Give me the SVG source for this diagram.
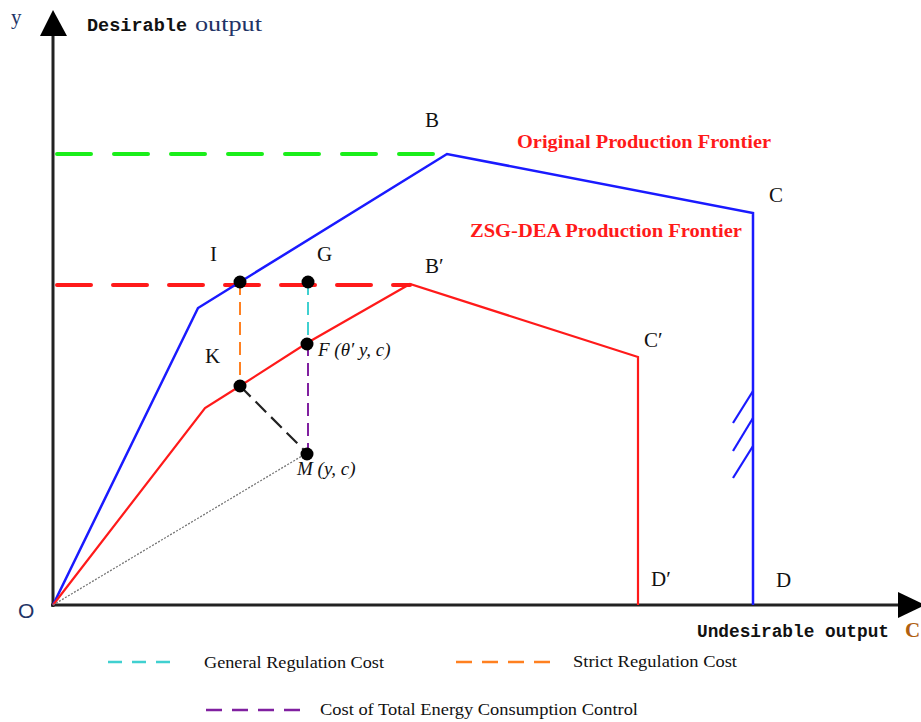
<svg xmlns="http://www.w3.org/2000/svg" width="921" height="722" viewBox="0 0 921 722">
<style>
.lbl{font-family:"Liberation Serif","Times New Roman",serif;font-size:21px;fill:#111}
.ital{font-family:"Liberation Serif","Times New Roman",serif;font-size:19px;font-style:italic;fill:#111}
.up{font-family:"Liberation Serif","Times New Roman",serif;font-size:19px;fill:#111}
.red{font-family:"Liberation Serif","Times New Roman",serif;font-size:19px;font-weight:bold;fill:#ff1a1a}
.mono{font-family:"Liberation Mono","Courier New",monospace;font-size:19px;font-weight:bold;fill:#111}
.leg{font-family:"Liberation Serif","Times New Roman",serif;font-size:16px;fill:#111}
.blue{fill:none;stroke:#1a1aff;stroke-width:2.5;stroke-linejoin:miter}
.redl{fill:none;stroke:#ff1a1a;stroke-width:2.2}
.dot{fill:#000}
</style>
<rect width="921" height="722" fill="#fff"/>
<g id="axes">
<line x1="53" y1="607" x2="53" y2="36" stroke="#222" stroke-width="3"/>
<polygon points="53,10 40,36 67,36" fill="#000"/>
<line x1="51" y1="605" x2="898" y2="605" stroke="#222" stroke-width="3"/>
<polygon points="898,592 925,605 898,618" fill="#000"/>
<text x="11" y="24" class="lbl" style="fill:#223366">y</text>
<text x="18" y="618" class="lbl" style="fill:#223366;font-family:'Liberation Sans',Arial,sans-serif">O</text>
<text x="87" y="31" class="mono" textLength="100" lengthAdjust="spacingAndGlyphs">Desirable</text>
<text x="195" y="31" class="up" style="fill:#223366;font-size:22px" textLength="67" lengthAdjust="spacingAndGlyphs">output</text>
<text x="697" y="637" class="mono" textLength="192" lengthAdjust="spacingAndGlyphs">Undesirable output</text>
<text x="905" y="637" class="lbl" style="fill:#b06010;font-weight:bold">C</text>
</g>
<g id="connectors">
<line x1="57" y1="154" x2="447" y2="154" stroke="#1aee1a" stroke-width="4" stroke-dasharray="34,23" stroke-linecap="round"/>
<line x1="57" y1="285" x2="410" y2="285" stroke="#ff1a1a" stroke-width="4" stroke-dasharray="34,22" stroke-linecap="round"/>
<polyline class="blue" points="53,605 198,308 240,282 447,154 753,213 753,605"/>
<polyline class="redl" points="53,605 205,408 240,386 307,343 410,284 638,357 638,605"/>
<g stroke="#1a1aff" stroke-width="2.2">
<line x1="753" y1="391" x2="733" y2="423"/>
<line x1="753" y1="418" x2="733" y2="451"/>
<line x1="753" y1="446" x2="733" y2="478"/>
</g>
<line x1="53" y1="605" x2="307" y2="453" stroke="#777" stroke-width="1.3" stroke-dasharray="2,1.5"/>
<line x1="240" y1="282" x2="240" y2="386" stroke="#ff8020" stroke-width="2" stroke-dasharray="13,7"/>
<line x1="308" y1="282" x2="308" y2="343" stroke="#40d0d0" stroke-width="2" stroke-dasharray="13,7"/>
<line x1="308" y1="343" x2="308" y2="453" stroke="#8020a0" stroke-width="2" stroke-dasharray="13,7"/>
<line x1="240" y1="386" x2="307" y2="453" stroke="#222" stroke-width="2.2" stroke-dasharray="15,7"/>
</g>
<g id="node-B"><text x="425" y="127" class="lbl">B</text></g>
<g id="node-C"><text x="769" y="202" class="lbl">C</text></g>
<g id="node-Bp"><text x="425" y="273" class="lbl">B′</text></g>
<g id="node-Cp"><text x="644" y="347" class="lbl">C′</text></g>
<g id="node-Dp"><text x="651" y="586" class="lbl">D′</text></g>
<g id="node-D"><text x="776" y="587" class="lbl">D</text></g>
<g id="node-I"><circle class="dot" cx="240" cy="282" r="6.5"/><text x="210" y="261" class="lbl">I</text></g>
<g id="node-G"><circle class="dot" cx="308" cy="282" r="6.5"/><text x="317" y="261" class="lbl">G</text></g>
<g id="node-K"><circle class="dot" cx="240" cy="386" r="6.5"/><text x="205" y="363" class="lbl">K</text></g>
<g id="node-F"><circle class="dot" cx="307" cy="344" r="6.5"/><text x="318" y="356" class="ital">F (θ′ y, c)</text></g>
<g id="node-M"><circle class="dot" cx="307" cy="454" r="6.5"/><text x="297" y="475" class="ital">M (y, c)</text></g>
<g id="title-orig"><text x="517" y="148" class="red" textLength="254" lengthAdjust="spacingAndGlyphs">Original Production Frontier</text></g>
<g id="title-zsg"><text x="470" y="237" class="red" textLength="272" lengthAdjust="spacingAndGlyphs">ZSG-DEA Production Frontier</text></g>
<g id="legend">
<line x1="108" y1="662" x2="180" y2="662" stroke="#40d0d0" stroke-width="2.5" stroke-dasharray="14,10"/>
<text x="204" y="668" class="leg" textLength="180" lengthAdjust="spacingAndGlyphs">General Regulation Cost</text>
<line x1="456" y1="662" x2="557" y2="662" stroke="#ff8020" stroke-width="2.5" stroke-dasharray="16,10"/>
<text x="573" y="667" class="leg" textLength="164" lengthAdjust="spacingAndGlyphs">Strict Regulation Cost</text>
<line x1="206" y1="710" x2="307" y2="710" stroke="#8020a0" stroke-width="2.5" stroke-dasharray="16,10"/>
<text x="320" y="715" class="leg" textLength="318" lengthAdjust="spacingAndGlyphs">Cost of Total Energy Consumption Control</text>
</g>
</svg>
